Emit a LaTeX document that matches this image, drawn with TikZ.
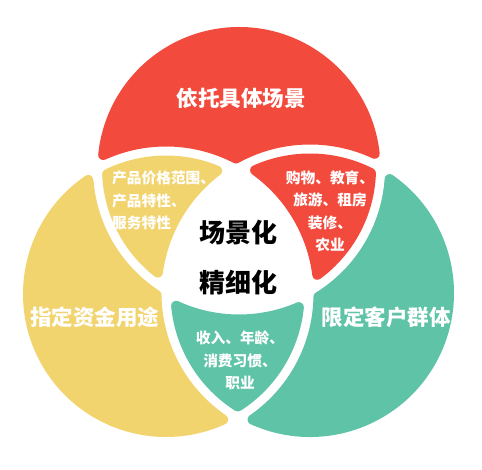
\documentclass[tikz,border=0pt]{standalone}
\usepackage{fontspec}
\newfontfamily\cjk{Noto Sans CJK SC}
\definecolor{cred}{HTML}{F24B3D}
\definecolor{cyel}{HTML}{F2D46F}
\definecolor{cteal}{HTML}{5FC3A7}
\tikzset{
  titletext/.style={text=white, inner sep=0pt, font=\cjk\bfseries\fontsize{21.5}{24}\selectfont},
  centertext/.style={text=black, inner sep=0pt, font=\cjk\bfseries\fontsize{26}{30}\selectfont},
  lenstext/.style={text=white, inner sep=0pt, font=\cjk\bfseries\fontsize{14.7}{22.5}\selectfont},
  piece/.style={fill=#1, draw=#1, line width=10pt, line join=round}
}
% circle data (units of 100pt, y up)
\def\Ax{2.39}\def\Ay{3.005}\def\Ar{1.415}
\def\Bx{1.66}\def\By{1.75}\def\Br{1.43}
\def\Cx{3.10}\def\Cy{1.76}\def\Cr{1.44}
\def\gp{0.045}  % half gap
\def\rho{0.05}  % corner radius (= half line width)
% angle on circle #2 (radius #3) of its intersection with circle #4 (radius #5); #6 = + (left of #2->#4) or -
\newcommand{\getang}[6]{%
  \pgfmathsetmacro{\tmpdx}{\csname #4x\endcsname-\csname #2x\endcsname}%
  \pgfmathsetmacro{\tmpdy}{\csname #4y\endcsname-\csname #2y\endcsname}%
  \pgfmathsetmacro{\tmpd}{veclen(\tmpdx,\tmpdy)}%
  \pgfmathsetmacro{#1}{atan2(\tmpdy,\tmpdx)#6acos(((#3)*(#3)+\tmpd*\tmpd-(#5)*(#5))/(2*(#3)*\tmpd))}%
}
\newcommand{\dccw}[3]{\pgfmathsetmacro{#1}{mod(#3-(#2)+720,360)}}
\newcommand{\dcw}[3]{\pgfmathsetmacro{#1}{-mod((#2)-(#3)+720,360)}}
\begin{document}
\begin{tikzpicture}[x=100pt,y=100pt]
\useasboundingbox[fill=white] (0,0) rectangle (4.82,4.69);
% eroded radii: o = outer edge, p = outside (gap), m = inside (gap)
\pgfmathsetmacro{\rAo}{\Ar-\rho}\pgfmathsetmacro{\rAp}{\Ar+\gp+\rho}\pgfmathsetmacro{\rAm}{\Ar-\gp-\rho}
\pgfmathsetmacro{\rBo}{\Br-\rho}\pgfmathsetmacro{\rBp}{\Br+\gp+\rho}\pgfmathsetmacro{\rBm}{\Br-\gp-\rho}
\pgfmathsetmacro{\rCo}{\Cr-\rho}\pgfmathsetmacro{\rCp}{\Cr+\gp+\rho}\pgfmathsetmacro{\rCm}{\Cr-\gp-\rho}
% ---- red outer piece
\getang{\sRa}{A}{\rAo}{C}{\rCp}{+}\getang{\eRa}{A}{\rAo}{B}{\rBp}{-}\dccw{\dRa}{\sRa}{\eRa}
\getang{\sRb}{B}{\rBp}{A}{\rAo}{+}\getang{\eRb}{B}{\rBp}{C}{\rCp}{+}\dcw{\dRb}{\sRb}{\eRb}
\getang{\sRc}{C}{\rCp}{B}{\rBp}{-}\getang{\eRc}{C}{\rCp}{A}{\rAo}{-}\dcw{\dRc}{\sRc}{\eRc}
\path[piece=cred] (\Ax,\Ay) ++(\sRa:\rAo)
  arc[start angle=\sRa, delta angle=\dRa, radius=\rAo]
  arc[start angle=\sRb, delta angle=\dRb, radius=\rBp]
  arc[start angle=\sRc, delta angle=\dRc, radius=\rCp] -- cycle;
% ---- yellow outer piece
\getang{\sYa}{B}{\rBo}{A}{\rAp}{+}\getang{\eYa}{B}{\rBo}{C}{\rCp}{-}\dccw{\dYa}{\sYa}{\eYa}
\getang{\sYb}{C}{\rCp}{B}{\rBo}{+}\getang{\eYb}{C}{\rCp}{A}{\rAp}{+}\dcw{\dYb}{\sYb}{\eYb}
\getang{\sYc}{A}{\rAp}{C}{\rCp}{-}\getang{\eYc}{A}{\rAp}{B}{\rBo}{-}\dcw{\dYc}{\sYc}{\eYc}
\path[piece=cyel] (\Bx,\By) ++(\sYa:\rBo)
  arc[start angle=\sYa, delta angle=\dYa, radius=\rBo]
  arc[start angle=\sYb, delta angle=\dYb, radius=\rCp]
  arc[start angle=\sYc, delta angle=\dYc, radius=\rAp] -- cycle;
% ---- teal outer piece
\getang{\sTa}{C}{\rCo}{B}{\rBp}{+}\getang{\eTa}{C}{\rCo}{A}{\rAp}{-}\dccw{\dTa}{\sTa}{\eTa}
\getang{\sTb}{A}{\rAp}{C}{\rCo}{+}\getang{\eTb}{A}{\rAp}{B}{\rBp}{+}\dcw{\dTb}{\sTb}{\eTb}
\getang{\sTc}{B}{\rBp}{A}{\rAp}{-}\getang{\eTc}{B}{\rBp}{C}{\rCo}{-}\dcw{\dTc}{\sTc}{\eTc}
\path[piece=cteal] (\Cx,\Cy) ++(\sTa:\rCo)
  arc[start angle=\sTa, delta angle=\dTa, radius=\rCo]
  arc[start angle=\sTb, delta angle=\dTb, radius=\rAp]
  arc[start angle=\sTc, delta angle=\dTc, radius=\rBp] -- cycle;
% ---- yellow lens (A and B)
\getang{\sUa}{B}{\rBm}{A}{\rAm}{+}\getang{\eUa}{B}{\rBm}{C}{\rCp}{+}\dcw{\dUa}{\sUa}{\eUa}
\getang{\sUb}{C}{\rCp}{B}{\rBm}{-}\getang{\eUb}{C}{\rCp}{A}{\rAm}{+}\dccw{\dUb}{\sUb}{\eUb}
\getang{\sUc}{A}{\rAm}{C}{\rCp}{-}\getang{\eUc}{A}{\rAm}{B}{\rBm}{-}\dcw{\dUc}{\sUc}{\eUc}
\path[piece=cyel] (\Bx,\By) ++(\sUa:\rBm)
  arc[start angle=\sUa, delta angle=\dUa, radius=\rBm]
  arc[start angle=\sUb, delta angle=\dUb, radius=\rCp]
  arc[start angle=\sUc, delta angle=\dUc, radius=\rAm] -- cycle;
% ---- red lens (A and C)
\getang{\sVa}{C}{\rCm}{A}{\rAm}{-}\getang{\eVa}{C}{\rCm}{B}{\rBp}{-}\dccw{\dVa}{\sVa}{\eVa}
\getang{\sVb}{B}{\rBp}{C}{\rCm}{+}\getang{\eVb}{B}{\rBp}{A}{\rAm}{-}\dcw{\dVb}{\sVb}{\eVb}
\getang{\sVc}{A}{\rAm}{B}{\rBp}{+}\getang{\eVc}{A}{\rAm}{C}{\rCm}{+}\dccw{\dVc}{\sVc}{\eVc}
\path[piece=cred] (\Cx,\Cy) ++(\sVa:\rCm)
  arc[start angle=\sVa, delta angle=\dVa, radius=\rCm]
  arc[start angle=\sVb, delta angle=\dVb, radius=\rBp]
  arc[start angle=\sVc, delta angle=\dVc, radius=\rAm] -- cycle;
% ---- teal lens (B and C)
\getang{\sWa}{C}{\rCm}{B}{\rBm}{+}\getang{\eWa}{C}{\rCm}{A}{\rAp}{+}\dcw{\dWa}{\sWa}{\eWa}
\getang{\sWb}{A}{\rAp}{C}{\rCm}{-}\getang{\eWb}{A}{\rAp}{B}{\rBm}{+}\dccw{\dWb}{\sWb}{\eWb}
\getang{\sWc}{B}{\rBm}{A}{\rAp}{-}\getang{\eWc}{B}{\rBm}{C}{\rCm}{-}\dcw{\dWc}{\sWc}{\eWc}
\path[piece=cteal] (\Cx,\Cy) ++(\sWa:\rCm)
  arc[start angle=\sWa, delta angle=\dWa, radius=\rCm]
  arc[start angle=\sWb, delta angle=\dWb, radius=\rAp]
  arc[start angle=\sWc, delta angle=\dWc, radius=\rBm] -- cycle;
% ---- texts
\node[titletext] (tA) at (2.41,3.71) {依托具体场景};
\node[titletext] (tB) at (0.95,1.52) {指定资金用途};
\node[titletext] (tC) at (3.86,1.52) {限定客户群体};
\node[centertext] (c1) at (2.385,2.36) {场景化};
\node[centertext] (c2) at (2.385,1.86) {精细化};
\node[lenstext, align=left, anchor=west] (lAB) at (1.12,2.685) {产品价格范围、\\产品特性、\\服务特性};
\node[lenstext, align=center] (lAC) at (3.30,2.575) {购物、教育、\\旅游、租房\\装修、\\农业};
\node[lenstext, align=center] (lBC) at (2.40,1.085) {收入、年龄、\\消费习惯、\\职业};
\end{tikzpicture}
\end{document}
